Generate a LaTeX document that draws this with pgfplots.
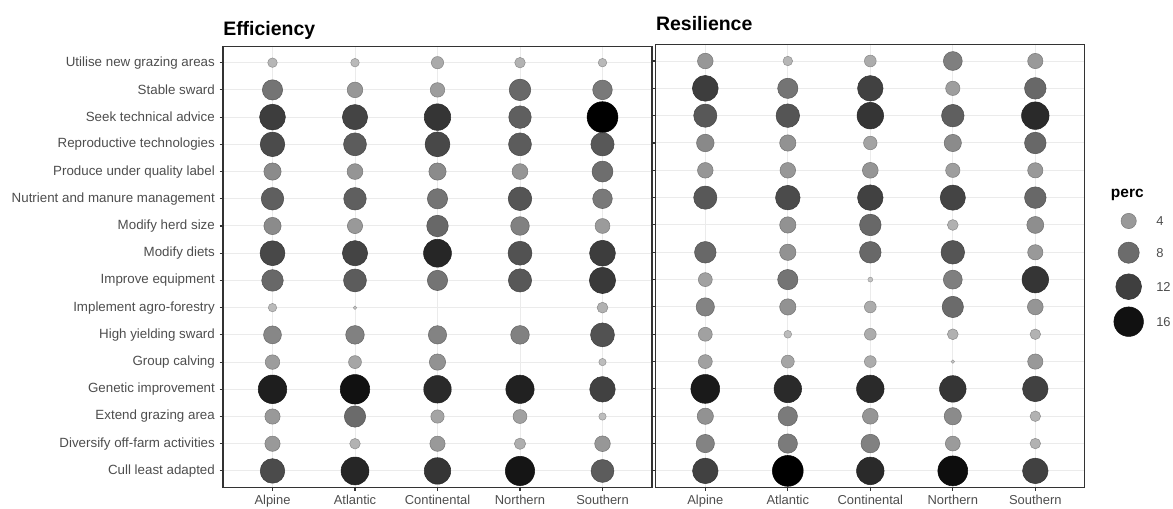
\documentclass[border=0pt]{standalone}
\usepackage{fontspec}
\setmainfont{Liberation Sans}
\usepackage{pgfplots}
\usepackage{pgfplotstable}
\pgfplotsset{compat=1.18}
\definecolor{labelgray}{HTML}{4D4D4D}
\definecolor{frame}{HTML}{333333}
\definecolor{gridc}{HTML}{EBEBEB}

% x: 1 Alpine, 2 Atlantic, 3 Continental, 4 Northern, 5 Southern
% y: 1 Cull least adapted ... 16 Utilise new grazing areas
\pgfplotstableread{
x y v
1 16 1.45
2 16 1.13
3 16 2.5
4 16 1.8
5 16 1.13
1 15 7.3
2 15 4.2
3 15 3.6
4 15 8.3
5 15 6.8
1 14 12.1
2 14 11.5
3 14 12.8
4 14 9.1
5 14 17.5
1 13 10.9
2 13 9.4
3 13 11.2
4 13 9.4
5 13 9.7
1 12 5.2
2 12 4.3
3 12 5.2
4 12 4.3
5 12 7.8
1 11 9.1
2 11 9.1
3 11 7.3
4 11 10.0
5 11 6.8
1 10 5.2
2 10 4.0
3 10 8.3
4 10 6.1
5 10 3.8
1 9 11.2
2 9 11.5
3 9 14.2
4 9 10.3
5 9 12.1
1 8 8.3
2 8 9.4
3 8 7.3
4 8 9.7
5 8 12.5
1 7 1.1
2 7 0.13
5 7 1.9
1 6 5.6
2 6 6.1
3 6 5.9
4 6 6.1
5 6 10.3
1 5 3.6
2 5 2.8
3 5 4.6
5 5 0.8
1 4 14.9
2 4 16.0
3 4 13.8
4 4 14.6
5 4 11.8
1 3 4.0
2 3 8.1
3 3 3.0
4 3 3.3
5 3 0.8
1 2 4.0
2 2 1.8
3 2 4.0
4 2 2.1
5 2 4.2
1 1 10.9
2 1 14.2
3 1 12.8
4 1 15.7
5 1 9.4
}\efficiency

\pgfplotstableread{
x y v
1 16 4.2
2 16 1.45
3 16 2.3
4 16 6.3
5 16 4.0
1 15 12.1
2 15 7.3
3 15 11.8
4 15 3.5
5 15 8.3
1 14 9.7
2 14 10.0
3 14 12.8
4 14 9.1
5 14 13.8
1 13 5.4
2 13 4.6
3 13 3.1
4 13 5.2
5 13 8.3
1 12 4.2
2 12 4.2
3 12 4.3
4 12 3.5
5 12 4.0
1 11 9.7
2 11 10.9
3 11 11.8
4 11 11.5
5 11 8.3
2 10 4.6
3 10 8.3
4 10 1.9
5 10 5.0
1 9 8.3
2 9 4.6
3 9 8.3
4 9 10.0
5 9 4.0
1 8 3.3
2 8 7.3
3 8 0.3
4 8 6.3
5 8 12.8
1 7 5.9
2 7 4.6
3 7 2.3
4 7 8.1
5 7 4.3
1 6 3.3
2 6 0.9
3 6 2.3
4 6 1.9
5 6 1.8
1 5 3.3
2 5 2.8
3 5 2.3
4 5 0.13
5 5 4.0
1 4 15.2
2 4 13.8
3 4 13.8
4 4 12.8
5 4 11.8
1 3 4.6
2 3 6.6
3 3 4.3
4 3 5.2
5 3 1.8
1 2 5.9
2 2 6.6
3 2 6.1
4 2 3.8
5 2 1.8
1 1 11.8
2 1 17.5
3 1 13.8
4 1 16.4
5 1 11.8
}\resilience

\pgfplotsset{
  dotmap/.style={
    point meta min=0, point meta max=17.66,
    colormap={gr}{rgb255=(198,198,198) rgb255=(0,0,0)},
  },
  dots/.style={
    scatter, only marks, mark=*, scatter src=explicit,
    visualization depends on={sqrt(\thisrow{v}) \as \sq},
    scatter/@pre marker code/.append style={/tikz/mark size=0.35+2.681*\sq},
  },
  panel/.style={
    dotmap,
    scale only axis, width=321.75pt,
    xmin=0.4, xmax=5.6, ymin=0.4, ymax=16.6,
    xtick={1,...,5},
    xticklabels={Alpine,Atlantic,Continental,Northern,Southern},
    ytick={1,...,16},
    grid=major,
    major grid style={line width=0.75pt, color=gridc},
    axis line style={line width=0.8pt, color=frame},
    tick style={line width=0.8pt, color=frame},
    tick align=outside, major tick length=2.6pt,
    xtick pos=left, ytick pos=left,
    xticklabel style={font=\fontsize{9.7}{11}\selectfont, text=labelgray},
    yticklabel style={font=\fontsize{10}{11}\selectfont, text=labelgray},
    title style={at={(0,1)}, anchor=base west, inner sep=0pt,
      font=\bfseries\fontsize{14.6}{16}\selectfont, text=black},
    anchor=south west,
  },
}

\begin{document}
\begin{tikzpicture}
\path[use as bounding box] (0,0) rectangle (879.75pt,381.75pt);

\begin{axis}[panel, at={(167.25pt,16.28pt)}, height=330.7pt,
  yticklabels={Cull least adapted,Diversify off-farm activities,Extend grazing area,Genetic improvement,Group calving,High yielding sward,Implement agro-forestry,Improve equipment,Modify diets,Modify herd size,Nutrient and manure management,Produce under quality label,Reproductive technologies,Seek technical advice,Stable sward,Utilise new grazing areas},
  title={Efficiency}, title style={yshift=2.5pt}]
\addplot[dots] table[x=x, y=y, meta=v] {\efficiency};
\end{axis}

\begin{axis}[panel, at={(491.85pt,16.28pt)}, height=332.0pt,
  yticklabels={},
  title={Resilience}, title style={yshift=4.4pt}]
\addplot[dots] table[x=x, y=y, meta=v] {\resilience};
\end{axis}

% legend (coordinates in reference pixels, y negated)
\begin{axis}[dotmap, at={(831.5pt,134.25pt)}, anchor=south west,
  scale only axis, width=30pt, height=88.5pt,
  xmin=1108.7, xmax=1148.7, ymin=-330, ymax=-212,
  hide axis, clip=false]
\addplot[dots] table[x=x, y=y, meta=v, row sep=\\] {
x y v \\
1128.7 -221 4 \\
1128.7 -252.7 8 \\
1128.7 -286.7 12 \\
1128.7 -321.7 16 \\
};
\node[anchor=base west, inner sep=0pt, font=\bfseries\fontsize{11.6}{13}\selectfont] at (axis cs:1110.7,-197.7) {perc};
\node[anchor=west, inner sep=0pt, font=\fontsize{9.7}{11}\selectfont, text=labelgray] at (axis cs:1156,-221) {4};
\node[anchor=west, inner sep=0pt, font=\fontsize{9.7}{11}\selectfont, text=labelgray] at (axis cs:1156,-252.7) {8};
\node[anchor=west, inner sep=0pt, font=\fontsize{9.7}{11}\selectfont, text=labelgray] at (axis cs:1156,-286.7) {12};
\node[anchor=west, inner sep=0pt, font=\fontsize{9.7}{11}\selectfont, text=labelgray] at (axis cs:1156,-321.7) {16};
\end{axis}
\end{tikzpicture}
\end{document}
